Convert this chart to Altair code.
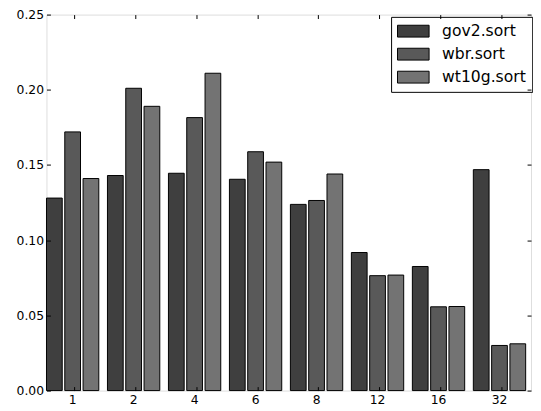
import altair as alt
import pandas as pd

categories = ["1", "2", "4", "6", "8", "12", "16", "32"]
series = ["gov2.sort", "wbr.sort", "wt10g.sort"]
gov2 = [0.128, 0.143, 0.1445, 0.1405, 0.1238, 0.0918, 0.0825, 0.1469]
wbr = [0.172, 0.201, 0.1815, 0.1588, 0.1264, 0.0764, 0.0557, 0.030]
wt10g = [0.141, 0.189, 0.211, 0.1519, 0.144, 0.0768, 0.0559, 0.0311]
colors = ["#3f3f3f", "#595959", "#737373"]
y_ticks = [0.0, 0.05, 0.10, 0.15, 0.20, 0.25]

rows = []
for name, vals in zip(series, [gov2, wbr, wt10g]):
    for c, v in zip(categories, vals):
        rows.append({"cat": c, "series": name, "value": v})
df = pd.DataFrame(rows)

FONT = "DejaVu Sans"

xscale = alt.Scale(paddingInner=0.142, paddingOuter=0.044, align=0)
yscale = alt.Scale(domain=[0, 0.25], nice=False, zero=True)

bars = alt.Chart(df).mark_bar(stroke="black", strokeWidth=1).encode(
    x=alt.X("cat:O", sort=categories, scale=xscale, title=None,
            axis=alt.Axis(orient="bottom", labelAngle=0, domain=False, offset=-4,
                          tickSize=4, tickColor="black", labelPadding=3,
                          labelFontSize=12.5, labelFont=FONT, labelColor="black",
                          bandPosition=0.54, zindex=1)),
    xOffset=alt.XOffset("series:N", sort=series,
                        scale=alt.Scale(paddingInner=0.14, paddingOuter=0)),
    y=alt.Y("value:Q", scale=yscale, title=None,
            axis=alt.Axis(orient="left", values=y_ticks, format=".2f", domain=False,
                          offset=-4, tickSize=4, tickColor="black", labelPadding=3,
                          labelFontSize=12.5, labelFont=FONT, labelColor="black",
                          grid=False, zindex=1)),
    color=alt.Color("series:N", sort=series,
                    scale=alt.Scale(domain=series, range=colors),
                    legend=alt.Legend(title=None, orient="none", legendX=349.2, legendY=2.3,
                                      symbolType="M-2,-0.75L2,-0.75L2,0.75L-2,0.75Z",
                                      symbolSize=256, symbolOffset=8,
                                      symbolStrokeColor="black",
                                      symbolStrokeWidth=1, symbolOpacity=1,
                                      labelFontSize=15.8, labelFont=FONT, labelColor="black",
                                      labelOffset=20.7, rowPadding=6.3, padding=6,
                                      strokeColor="black", fillColor="white",
                                      cornerRadius=0)),
)

ghost = alt.Chart(df).mark_bar(opacity=0).encode(
    x=alt.X("cat:O", sort=categories, scale=xscale, title=None,
            axis=alt.Axis(orient="top", labels=False, domain=False, offset=-4,
                          tickSize=4, tickColor="black", bandPosition=0.54, zindex=1)),
    y=alt.Y("value:Q", scale=yscale, title=None,
            axis=alt.Axis(orient="right", values=y_ticks, labels=False, domain=False,
                          offset=-4, tickSize=4, tickColor="black", grid=False, zindex=1)),
)

chart = alt.layer(bars, ghost).resolve_axis(x="independent", y="independent").properties(
    width=491, height=381,
    autosize=alt.AutoSizeParams(type="none"),
    padding={"left": 39, "top": 4, "right": 2, "bottom": 16},
).configure_view(stroke="black", strokeWidth=1).configure(background="white")

chart.save("out.html", embed_options={"renderer": "svg", "actions": False})
